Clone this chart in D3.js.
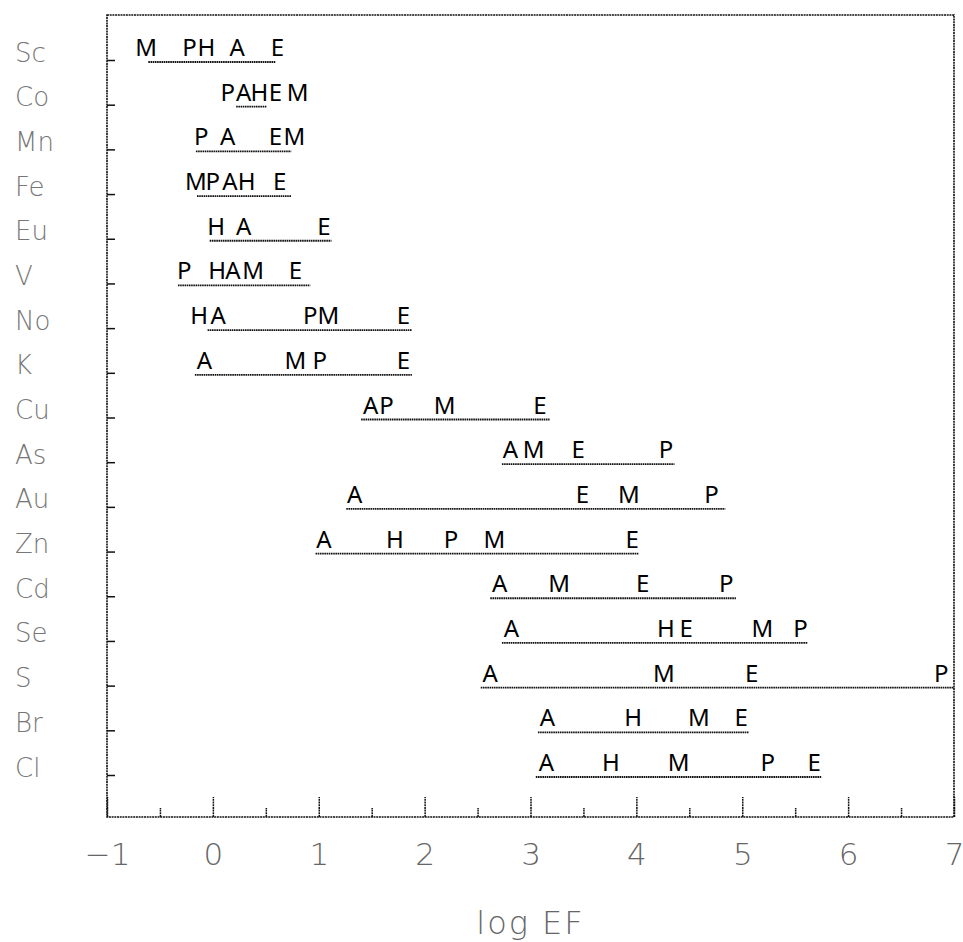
<!DOCTYPE html>
<html>
<head>
<meta charset="utf-8">
<script src="https://cdn.jsdelivr.net/npm/d3@7"></script>
<style>
  html, body { margin: 0; padding: 0; background: #fff; }
  svg { display: block; }
</style>
</head>
<body>
<svg id="chart" width="963" height="942"></svg>
<script>
// Elements, top to bottom
const elements = ["Sc","Co","Mn","Fe","Eu","V","No","K","Cu","As","Au","Zn","Cd","Se","S","Br","Cl"];

// log EF by source type (null = not reported)
const seriesM = [-0.63, 0.80, 0.77, -0.16, null, 0.38, 1.09, 0.78, 2.19, 3.03, 3.93, 2.66, 3.27, 5.19, 4.26, 4.59, 4.40];
const seriesP = [-0.22, 0.14, -0.11, 0.00, null, -0.27, 0.92, 1.01, 1.64, 4.28, 4.71, 2.25, 4.85, 5.55, 6.88, null, 5.24];
const seriesH = [-0.06, 0.44, null, 0.32, 0.03, 0.04, -0.13, null, null, null, null, 1.72, null, 4.28, null, 3.97, 3.76];
const seriesA = [0.23, 0.29, 0.14, 0.16, 0.29, 0.19, 0.05, -0.08, 1.49, 2.81, 1.34, 1.05, 2.71, 2.82, 2.62, 3.16, 3.15];
const seriesE = [0.61, 0.59, 0.59, 0.63, 1.05, 0.78, 1.80, 1.80, 3.09, 3.45, 3.49, 3.96, 4.06, 4.47, 5.09, 4.99, 5.68];

// Range of log EF covered by each element
const rangeLow  = [-0.61, 0.22, -0.16, -0.15, -0.03, -0.33, -0.05, -0.17, 1.40, 2.73, 1.26, 0.97, 2.62, 2.73, 2.53, 3.07, 3.05];
const rangeHigh = [0.59, 0.51, 0.74, 0.74, 1.12, 0.92, 1.88, 1.88, 3.18, 4.36, 4.84, 4.02, 4.94, 5.62, 7.00, 5.06, 5.75];

const xMajorTicks = [-1, 0, 1, 2, 3, 4, 5, 6, 7];
const xMinorTicks = [-0.5, 0.5, 1.5, 2.5, 3.5, 4.5, 5.5, 6.5];
const xTitle = "log EF";

const series = [
  { key: "M", values: seriesM },
  { key: "P", values: seriesP },
  { key: "H", values: seriesH },
  { key: "A", values: seriesA },
  { key: "E", values: seriesE }
];

const svg = d3.select("#chart");
const frame = { left: 107, right: 954, top: 15, bottom: 817 };

const x = d3.scaleLinear().domain([-1, 7]).range([frame.left, frame.right]);
const y = d3.scalePoint().domain(elements).range([60, 775]);

svg.append("rect").attr("width", 963).attr("height", 942).attr("fill", "#fff");

const dotted = "2 0.7";

// Plot frame
svg.append("rect")
  .attr("x", frame.left).attr("y", frame.top)
  .attr("width", frame.right - frame.left)
  .attr("height", frame.bottom - frame.top)
  .attr("fill", "none")
  .attr("stroke", "#111")
  .attr("stroke-width", 1.6)
  .attr("stroke-dasharray", dotted);

// Minor ticks on the bottom axis
const minorAxis = svg.append("g")
  .attr("transform", `translate(0,${frame.bottom})`)
  .call(d3.axisBottom(x).tickValues(xMinorTicks).tickSizeInner(-9).tickSizeOuter(0).tickFormat(""));
minorAxis.select(".domain").remove();

// Major ticks and labels on the bottom axis
const majorAxis = svg.append("g")
  .attr("transform", `translate(0,${frame.bottom})`)
  .call(d3.axisBottom(x).tickValues(xMajorTicks).tickSizeInner(-20).tickSizeOuter(0).tickFormat(d3.format("d")));
majorAxis.select(".domain").remove();

svg.selectAll(".tick line")
  .attr("stroke", "#111")
  .attr("stroke-width", 1.5)
  .attr("stroke-dasharray", "2 0.7");

majorAxis.selectAll(".tick text")
  .attr("y", 48)
  .attr("dy", 0)
  .attr("font-family", "DejaVu Sans, sans-serif")
  .attr("font-weight", 200)
  .attr("font-size", 31)
  .attr("fill", "#666");

// Left axis: short inward ticks and element names
const yAxis = svg.append("g")
  .attr("transform", `translate(${frame.left},0)`)
  .call(d3.axisLeft(y).tickSizeInner(-8).tickSizeOuter(0));
yAxis.select(".domain").remove();
yAxis.selectAll(".tick line")
  .attr("stroke", "#111")
  .attr("stroke-width", 1.5);
yAxis.selectAll(".tick text")
  .attr("x", 15 - frame.left)
  .attr("dy", 0)
  .attr("y", 1)
  .attr("text-anchor", "start")
  .attr("font-family", "DejaVu Sans, sans-serif")
  .attr("font-weight", 200)
  .attr("font-size", 26)
  .attr("fill", "#777");

// Axis title
svg.append("text")
  .attr("x", (frame.left + frame.right) / 2)
  .attr("y", 934)
  .attr("text-anchor", "middle")
  .attr("font-family", "DejaVu Sans, sans-serif")
  .attr("font-weight", 200)
  .attr("font-size", 32)
  .attr("fill", "#666")
  .attr("letter-spacing", 2)
  .text(xTitle);

// Range underlines per element
svg.append("g")
  .selectAll("line")
  .data(elements.map((el, i) => ({ el, lo: rangeLow[i], hi: rangeHigh[i] })))
  .join("line")
  .attr("x1", d => x(d.lo))
  .attr("x2", d => x(d.hi))
  .attr("y1", d => y(d.el) + 2)
  .attr("y2", d => y(d.el) + 2)
  .attr("stroke", "#111")
  .attr("stroke-width", 1.8)
  .attr("stroke-dasharray", "1.6 0.6");

// Source letters placed at their log EF
const letters = [];
series.forEach(s => {
  s.values.forEach((v, i) => {
    if (v !== null) letters.push({ key: s.key, el: elements[i], v });
  });
});

svg.append("g")
  .selectAll("text")
  .data(letters)
  .join("text")
  .attr("x", d => x(d.v))
  .attr("y", d => y(d.el) - 4)
  .attr("text-anchor", "middle")
  .attr("font-family", "Noto Sans, sans-serif")
  .attr("font-size", 24)
  .attr("fill", "#000")
  .text(d => d.key);
</script>
</body>
</html>
